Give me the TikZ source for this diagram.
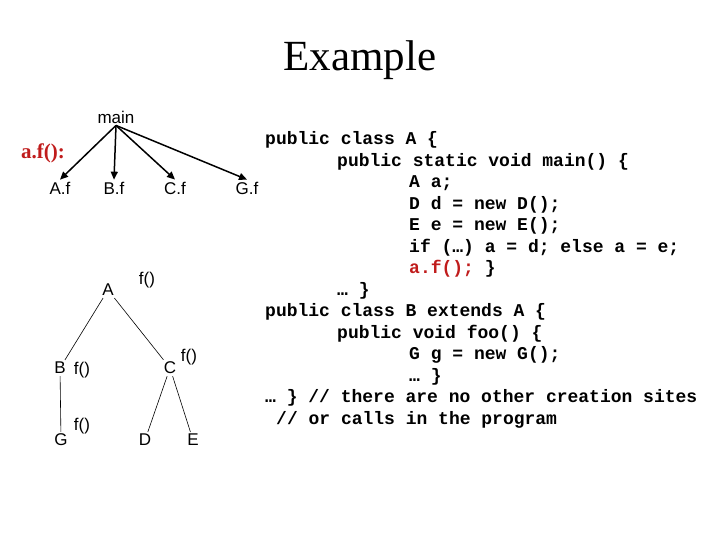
\documentclass[tikz,border=0pt]{standalone}
\usepackage{fontspec}
\setmainfont{Liberation Serif}
\setsansfont{Liberation Sans}
\setmonofont{Liberation Mono}
\usetikzlibrary{arrows.meta}
\definecolor{callred}{RGB}{192,28,28}

\begin{document}
\begin{tikzpicture}[x=1pt,y=-1pt,
    lbl/.style={font=\sffamily\fontsize{17}{20}\selectfont,inner sep=2pt},
    code/.style={font=\ttfamily\bfseries\fontsize{18}{21}\selectfont,anchor=west,inner sep=0pt},
    call/.style={-{Triangle[length=8pt,width=7pt]},line width=1.5pt},
    tree/.style={line width=0.6pt}]
  \useasboundingbox (0,0) rectangle (720,540);
  \node[font=\fontsize{43}{50}\selectfont] (title) at (360,60) {Example};

  % call graph of a.f()
  \node[font=\bfseries\fontsize{21}{24}\selectfont,text=callred] (site) at (43,153) {a.f():};
  \node[lbl] (main) at (116,117) {main};
  \node[lbl] (Af) at (60,188) {A.f};
  \node[lbl] (Bf) at (114,188) {B.f};
  \node[lbl] (Cf) at (175,188) {C.f};
  \node[lbl] (Gf) at (247,188) {G.f};
  \draw[call] (main.south) -- (Af.north);
  \draw[call] (main.south) -- (Bf.north);
  \draw[call] (main.south) -- (Cf.north);
  \draw[call] (main.south) -- (Gf.north);

  % class hierarchy
  \node[lbl] (A) at (108,290) {A};
  \node[lbl] (B) at (60,368) {B};
  \node[lbl] (C) at (170,368) {C};
  \node[lbl] (G) at (61,440) {G};
  \node[lbl] (D) at (145,440) {D};
  \node[lbl] (E) at (193,440) {E};
  \node[lbl] (fA) at (147,280) {f()};
  \node[lbl] (fB) at (82,370) {f()};
  \node[lbl] (fC) at (189,357) {f()};
  \node[lbl] (fG) at (82,426) {f()};
  \draw[tree] (A) -- (B);
  \draw[tree] (A) -- (C);
  \draw[tree] (B) -- (G);
  \draw[tree] (C) -- (D);
  \draw[tree] (C) -- (E);

  % program text
  \node[code] (l1) at (265,140) {public class A \{};
  \node[code] (l2) at (337,161.5) {public static void main() \{};
  \node[code] (l3) at (409,183) {A a;};
  \node[code] (l4) at (409,204.5) {D d = new D();};
  \node[code] (l5) at (409,226) {E e = new E();};
  \node[code] (l6) at (409,247.5) {if (…) a = d; else a = e;};
  \node[code] (l7) at (409,269) {\textcolor{callred}{a.f();} \}};
  \node[code] (l8) at (337,290.5) {… \}};
  \node[code] (l9) at (265,312) {public class B extends A \{};
  \node[code] (l10) at (337,333.5) {public void foo() \{};
  \node[code] (l11) at (409,355) {G g = new G();};
  \node[code] (l12) at (409,376.5) {… \}};
  \node[code] (l13) at (265,398) {… \} // there are no other creation sites};
  \node[code] (l14) at (276,419.5) {// or calls in the program};
\end{tikzpicture}
\end{document}
